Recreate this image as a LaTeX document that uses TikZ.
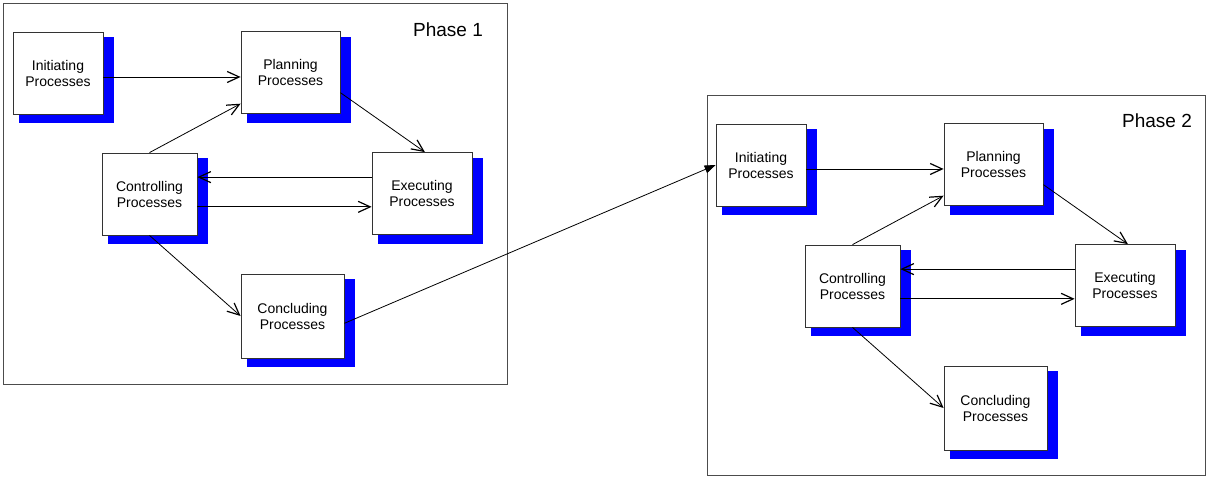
\documentclass[tikz,border=0pt]{standalone}
\usepackage{fontspec}
\setmainfont{Liberation Sans}
\usetikzlibrary{arrows.meta,shadows}
\tikzset{proc/.style={draw=black!80, fill=white, line width=0.8pt, minimum height=82pt, minimum width=#1,
  align=center, font=\fontsize{14}{16}\selectfont,
  general shadow={fill=blue, shadow scale=1.05, shadow xshift=8pt, shadow yshift=-7pt}},
%default box width
proc/.default={97pt},
frame/.style={draw=black!70, line width=0.8pt, inner sep=0pt},
flow/.style={line width=0.8pt, -{Straight Barb[length=12pt,width=11pt,line width=1.2pt]}}}

\begin{document}
\begin{tikzpicture}[x=1pt,y=-1pt]
\useasboundingbox (0,0) rectangle (1207,477);

\node[frame, minimum width=504pt, minimum height=381pt] (phase1) at (255,193.5) {};
\node[frame, minimum width=498pt, minimum height=380pt] (phase2) at (956,285.5) {};

\node[font=\fontsize{19}{22}\selectfont] (lab1) at (448,30) {Phase 1};
\node[font=\fontsize{19}{22}\selectfont] (lab2) at (1157,121) {Phase 2};

\foreach \p/\dx/\dy in {1/0/0, 2/703/92}{
  \begin{scope}[shift={(\dx,\dy)}]
    \node[proc=90pt] (init\p) at (58,73) {Initiating\\Processes};
    \node[proc=99pt] (plan\p) at (290.5,72.5) {Planning\\Processes};
    \node[proc=95pt] (ctrl\p) at (149.5,194) {Controlling\\Processes};
    \node[proc=100pt] (exec\p) at (422,193.5) {Executing\\Processes};
    \node[proc=103pt, minimum height=84pt] (conc\p) at (292.5,316) {Concluding\\Processes};
  \end{scope}

  \draw[flow] (init\p.-5) -- (init\p.-5 -| plan\p.west);
  \draw[flow] (ctrl\p.north) -- (plan\p.212);
  \draw[flow] (plan\p.-22) -- (exec\p.86);
  \draw[flow] (exec\p.162) -- (exec\p.162 -| ctrl\p.east);
  \draw[flow] (ctrl\p.-15) -- (ctrl\p.-15 -| exec\p.west);
  \draw[flow] (ctrl\p.south) -- (conc\p.west);
}

\draw[line width=0.8pt, -{Triangle[length=11pt,width=8pt]}] (conc1.-8) -- (init2.west);

\end{tikzpicture}
\end{document}
